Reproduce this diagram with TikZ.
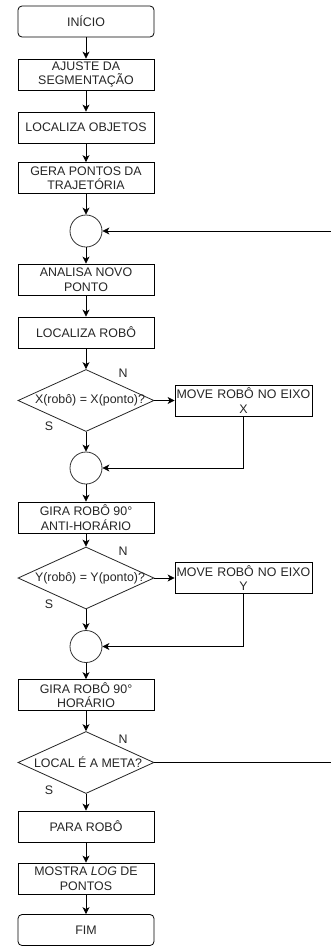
\documentclass[tikz,border=0pt]{standalone}
\usepackage{fontspec}
\setmainfont{Liberation Sans}
\usetikzlibrary{shapes.geometric,arrows.meta}
\begin{document}
\begin{tikzpicture}[x=1pt,y=-1pt,
  every node/.style={font=\fontsize{12.4}{14.5}\selectfont, text=black!85},
  box/.style={draw=black, line width=0.8pt, minimum width=136pt, minimum height=31pt, inner sep=0pt, align=center},
  term/.style={box, rounded corners=4pt},
  sidebox/.style={box, minimum width=137pt, text width=137pt},
  junc/.style={draw=black!80, line width=0.8pt, circle, minimum size=32pt, inner sep=0pt},
  dec/.style={draw=black!85, line width=0.8pt, diamond, minimum width=136pt, minimum height=62pt, inner sep=0pt},
  lbl/.style={inner sep=0pt},
  flow/.style={draw=black, line width=0.8pt, -{Stealth[length=7pt,width=7pt,inset=2pt]}},
  plain/.style={draw=black, line width=0.8pt}]
\clip (0,0) rectangle (331,946);
\fill[white] (0,0) rectangle (331,946);
\coordinate (far) at (345,0);

\node[term] (ini) at (86,21.5) {INÍCIO};
\node[box] (aju) at (86,74.5) {AJUSTE DA\\SEGMENTAÇÃO};
\node[box] (loc) at (86,127.5) {LOCALIZA OBJETOS};
\node[box] (ger) at (86,178) {GERA PONTOS DA\\TRAJETÓRIA};
\node[junc] (c1) at (86,231) {};
\node[box] (ana) at (86,279.5) {ANALISA NOVO\\PONTO};
\node[box] (lrb) at (86,332.5) {LOCALIZA ROBÔ};
\node[dec] (d1) at (86,400.5) {};
\node[lbl] (t1) at (90,400.5) {X(robô) = X(ponto)?};
\node[sidebox] (mx) at (243.5,400.5) {MOVE ROBÔ NO EIXO\\X};
\node[junc] (c2) at (86,468) {};
\node[box] (gaa) at (86,517.5) {GIRA ROBÔ 90°\\ANTI-HORÁRIO};
\node[dec] (d2) at (86,578) {};
\node[lbl] (t2) at (90,578) {Y(robô) = Y(ponto)?};
\node[sidebox] (my) at (243.5,578) {MOVE ROBÔ NO EIXO\\Y};
\node[junc] (c3) at (86,646.5) {};
\node[box] (gh) at (86,695) {GIRA ROBÔ 90°\\HORÁRIO};
\node[dec] (d3) at (86,762.5) {};
\node[lbl] (t3) at (88,762.5) {LOCAL É A META?};
\node[box] (par) at (86,826.5) {PARA ROBÔ};
\node[box] (mos) at (86,878.5) {MOSTRA \textit{LOG} DE\\PONTOS};
\node[term] (fim) at (86,930) {FIM};

\node[lbl] (n1) at (123,373) {N};
\node[lbl] (s1) at (49,426) {S};
\node[lbl] (n2) at (123,551) {N};
\node[lbl] (s2) at (49,604) {S};
\node[lbl] (n3) at (123,739) {N};
\node[lbl] (s3) at (49,790) {S};

\draw[flow] (ini) -- (aju);
\draw[flow] (aju) -- (loc);
\draw[flow] (loc) -- (ger);
\draw[flow] (ger) -- (c1);
\draw[flow] (c1) -- (ana);
\draw[flow] (ana) -- (lrb);
\draw[flow] (lrb) -- (d1);
\draw[flow] (d1.east) -- (mx.west);
\draw[flow] (d1) -- (c2);
\draw[flow] (mx.south) |- (c2.east);
\draw[flow] (c2) -- (gaa);
\draw[flow] (gaa) -- (d2);
\draw[flow] (d2.east) -- (my.west);
\draw[flow] (d2) -- (c3);
\draw[flow] (my.south) |- (c3.east);
\draw[flow] (c3) -- (gh);
\draw[flow] (gh) -- (d3);
\draw[flow] (d3) -- (par);
\draw[flow] (par) -- (mos);
\draw[flow] (mos) -- (fim);
\draw[flow] (d3.east) -- (d3.east -| far) |- (c1.east);
\end{tikzpicture}
\end{document}
